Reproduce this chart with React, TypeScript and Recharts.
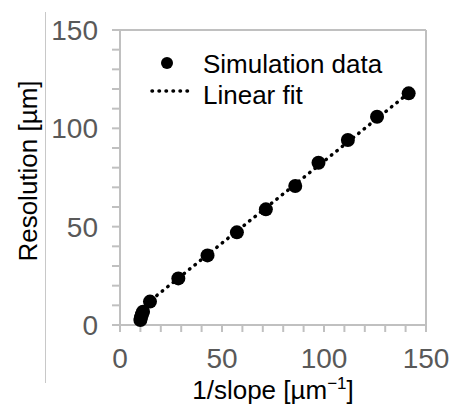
import { ComposedChart, Scatter, Line, XAxis, YAxis, ReferenceLine } from 'recharts';

// simulation points: 1/slope [µm^-1] vs resolution [µm]
const invSlope = [10, 10.3, 10.8, 11.3, 14.7, 28.6, 42.9, 57.3, 71.5, 85.9, 97.3, 111.7, 126, 141.5];
const resolution = [2.5, 4, 5.5, 6.8, 11.9, 23.7, 35.4, 47.1, 58.8, 70.7, 82.5, 94.1, 105.9, 117.8];

// linear fit end points
const fitX = [10, 141.5];
const fitY = [8.3, 117.9];

const axisTicks = [0, 10, 20, 30, 40, 50, 60, 70, 80, 90, 100, 110, 120, 130, 140, 150];

const simData = invSlope.map((x, i) => ({ x, y: resolution[i] }));
const fitData = fitX.map((x, i) => ({ x, y: fitY[i] }));

const FONT = '"Liberation Sans", Arial, sans-serif';
const AXIS = '#c0c0c0';

const tickStyle = { fill: '#595959', fontSize: 28, fontFamily: FONT };
const showMajor = (v: number) => (v % 50 === 0 ? String(v) : '');

const YTitle = () => (
  <text
    x={28}
    y={171}
    transform="rotate(-90, 28, 171)"
    textAnchor="middle"
    dominantBaseline="central"
    fontSize={26}
    fontFamily={FONT}
    fill="#000"
  >
    Resolution [µm]
  </text>
);

const XTitle = () => (
  <text x={273} y={399} textAnchor="middle" fontSize={26} fontFamily={FONT} fill="#000">
    1/slope [µm
    <tspan fontSize={17} dy={-10}>−1</tspan>
    <tspan dy={10}>]</tspan>
  </text>
);

export default function App() {
  return (
    <div style={{ position: 'absolute', left: 0, top: 0, width: 452, height: 406, background: '#fff' }}>
      <div style={{ position: 'absolute', left: 45, top: 12, width: 1, height: 371, background: '#c8c8c8' }} />
      <ComposedChart width={452} height={406} margin={{ top: 30, right: 26, left: 0, bottom: 0 }}>
        <XAxis
          dataKey="x"
          type="number"
          domain={[0, 150]}
          ticks={axisTicks}
          tickFormatter={showMajor}
          interval={0}
          height={81}
          tickSize={7}
          tickMargin={16}
          tick={tickStyle}
          axisLine={{ stroke: AXIS, strokeWidth: 2 }}
          tickLine={{ stroke: AXIS, strokeWidth: 2 }}
          label={{ content: () => <XTitle /> }}
        />
        <YAxis
          dataKey="y"
          type="number"
          domain={[0, 150]}
          ticks={axisTicks}
          tickFormatter={showMajor}
          interval={0}
          width={120}
          tickSize={8}
          tickMargin={14}
          tick={tickStyle}
          axisLine={{ stroke: AXIS, strokeWidth: 2 }}
          tickLine={{ stroke: AXIS, strokeWidth: 2 }}
          label={{ content: () => <YTitle /> }}
        />
        <ReferenceLine y={150} stroke={AXIS} strokeWidth={2} />
        <ReferenceLine x={150} stroke={AXIS} strokeWidth={2} />
        <Line
          data={fitData}
          dataKey="y"
          type="linear"
          stroke="#000"
          strokeWidth={3.5}
          strokeDasharray="0.5 6.5"
          strokeLinecap="round"
          dot={false}
          activeDot={false}
          isAnimationActive={false}
        />
        <Scatter
          data={simData}
          dataKey="y"
          fill="#000"
          shape={(p: any) => <circle cx={p.cx} cy={p.cy} r={7} fill="#000" />}
          isAnimationActive={false}
        />
      </ComposedChart>
      <svg width={452} height={406} style={{ position: 'absolute', left: 0, top: 0, pointerEvents: 'none' }}>
        <circle cx={167} cy={63} r={6} fill="#000" />
        <text x={203} y={73} fontSize={26} fontFamily={FONT} fill="#000">Simulation data</text>
        <line x1={152} y1={91} x2={189} y2={91} stroke="#000" strokeWidth={3.5} strokeDasharray="0.5 6.5" strokeLinecap="round" />
        <text x={203} y={104} fontSize={26} fontFamily={FONT} fill="#000">Linear fit</text>
      </svg>
    </div>
  );
}
